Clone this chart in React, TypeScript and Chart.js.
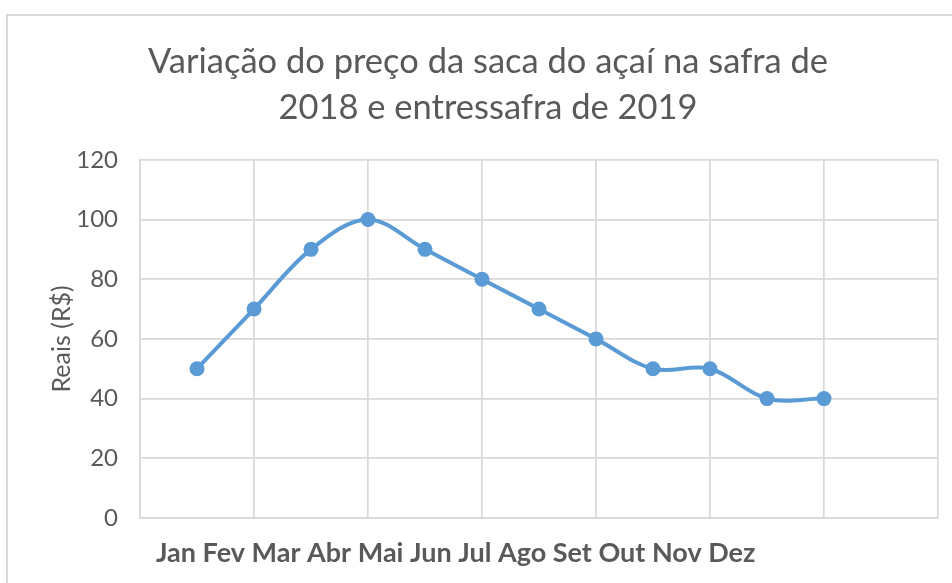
import React, { useEffect, useRef } from "react";
import { Chart, registerables } from "chart.js";

Chart.register(...registerables);

const titleLines = ["Variação do preço da saca do açaí na safra de", "2018 e entressafra de 2019"];
const months = ["Jan", "Fev", "Mar", "Abr", "Mai", "Jun", "Jul", "Ago", "Set", "Out", "Nov", "Dez"];
const positions = [1, 2, 3, 4, 5, 6, 7, 8, 9, 10, 11, 12];
const prices = [50, 70, 90, 100, 90, 80, 70, 60, 50, 50, 40, 40];
const yAxisTitle = "Reais (R$)";

const FONT = "Lato, 'Liberation Sans', sans-serif";
const TEXT = "#595959";
const GRID = "#d9d9d9";
const BLUE = "#5B9BD5";

const monthLabelPlugin = {
  id: "monthLabel",
  afterDraw(chart: any) {
    const { ctx, chartArea } = chart;
    ctx.save();
    ctx.font = `bold 27px ${FONT}`;
    ctx.fillStyle = TEXT;
    ctx.textAlign = "left";
    ctx.textBaseline = "alphabetic";
    ctx.fillText(months.join(" "), chartArea.left + 16, chartArea.bottom + 44);
    ctx.restore();
  },
};

export default function App() {
  const ref = useRef<HTMLCanvasElement>(null);
  useEffect(() => {
    if (!ref.current) return;
    const chart = new Chart(ref.current, {
      type: "line",
      data: {
        datasets: [
          {
            data: positions.map((x, i) => ({ x, y: prices[i] })),
            borderColor: BLUE,
            backgroundColor: BLUE,
            borderWidth: 4,
            pointRadius: 7.5,
            pointHoverRadius: 7.5,
            pointBorderWidth: 0,
            pointBackgroundColor: BLUE,
            tension: 0.35,
            fill: false,
          },
        ],
      },
      options: {
        animation: false,
        responsive: false,
        maintainAspectRatio: false,
        layout: { padding: { left: 38, right: 14, top: 0, bottom: 0 } },
        plugins: {
          legend: { display: false },
          tooltip: { enabled: false },
          title: {
            display: true,
            text: titleLines,
            color: TEXT,
            font: { family: FONT, size: 34.5, weight: "normal", lineHeight: 1.33 },
            padding: { top: 39, bottom: 29 },
          },
        },
        scales: {
          x: {
            type: "linear",
            min: 0,
            max: 14,
            ticks: { display: false, stepSize: 2 },
            grid: { color: GRID, lineWidth: 1.7, drawTicks: false },
            border: { color: GRID, width: 1.7 },
            afterFit: (s: any) => {
              s.height = 65;
            },
          },
          y: {
            min: 0,
            max: 120,
            ticks: {
              stepSize: 20,
              color: TEXT,
              padding: 22,
              font: { family: FONT, size: 24 },
            },
            grid: { color: GRID, lineWidth: 1.7, drawTicks: false },
            border: { color: GRID, width: 1.7 },
            title: {
              display: true,
              text: yAxisTitle,
              color: TEXT,
              font: { family: FONT, size: 25, lineHeight: 1.2 },
              padding: { top: 9, bottom: 0 },
            },
            afterFit: (s: any) => {
              s.width = 102;
            },
          },
        },
      },
      plugins: [monthLabelPlugin],
    });
    return () => chart.destroy();
  }, []);

  return (
    <div style={{ position: "fixed", left: 0, top: 0, width: 952, height: 583, overflow: "hidden", background: "#fff" }}>
      <div
        style={{
          position: "absolute",
          left: 6,
          top: 14,
          width: 2000,
          height: 2000,
          borderLeft: `2px solid ${GRID}`,
          borderTop: `2px solid ${GRID}`,
        }}
      />
      <canvas ref={ref} width={952} height={583} style={{ position: "absolute", left: 0, top: 0, display: "block" }} />
    </div>
  );
}
